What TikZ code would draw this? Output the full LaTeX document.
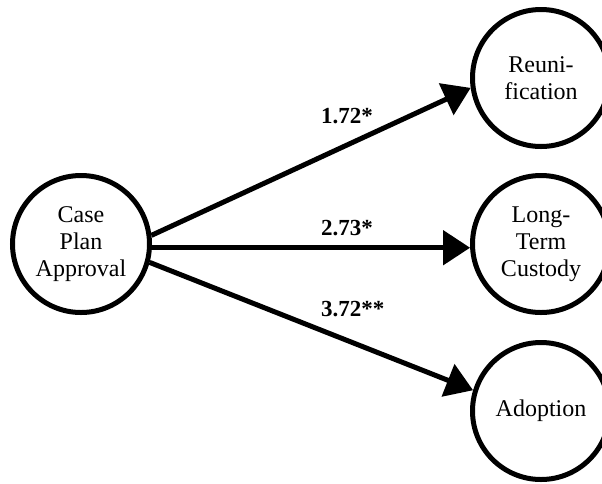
\documentclass[tikz,border=0pt]{standalone}
\usepackage{fontspec}
\setmainfont{Liberation Serif}
\usetikzlibrary{arrows.meta}
\begin{document}
\begin{tikzpicture}[x=1pt,y=-1pt,
  state/.style={circle,draw,line width=5pt,minimum size=137pt,inner sep=0pt,
    align=center,font=\fontsize{24}{27}\selectfont},
  link/.style={line width=5pt,-{Triangle[length=27pt,width=34pt]}},
  coef/.style={anchor=base west,inner sep=0pt,font=\fontsize{23}{26}\selectfont\bfseries}]
\useasboundingbox (0,0) rectangle (602,483);
\clip (0,0) rectangle (602,483);
\node[state] (L) at (81,244) {Case\\Plan\\Approval};
\node[state] (R1) at (541,78) {Reuni-\\fication};
\node[state] (R2) at (541,244) {Long-\\Term\\Custody};
\node[state] (R3) at (541,411) {Adoption};
\draw[link] (L.7) -- (R1.188);
\draw[link] (L.-3) -- (R2.183);
\draw[link] (L.-15) -- (R3.163);
\node[coef] (c1) at (321,123) {1.72*};
\node[coef] (c2) at (321,235) {2.73*};
\node[coef] (c3) at (321,316) {3.72**};
\end{tikzpicture}
\end{document}
